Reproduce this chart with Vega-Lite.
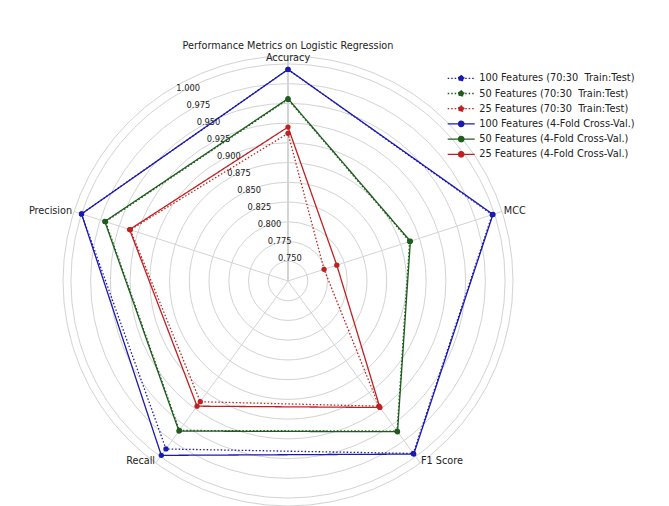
{
  "$schema": "https://vega.github.io/schema/vega-lite/v6.json",
  "width": 450,
  "height": 450,
  "autosize": {"type": "none"},
  "padding": {"left": 63, "top": 56, "right": 156, "bottom": 0},
  "background": "white",
  "config": {"view": {"stroke": null}, "font": "DejaVu Sans"},
  "title": {"text": "Performance Metrics on Logistic Regression", "fontSize": 9.7, "fontWeight": "normal", "color": "#222222", "anchor": "middle", "frame": "group", "offset": 2},
  "datasets": {
    "grid": [{"v": 0.75}, {"v": 0.775}, {"v": 0.8}, {"v": 0.825}, {"v": 0.85}, {"v": 0.875}, {"v": 0.9}, {"v": 0.925}, {"v": 0.95}, {"v": 0.975}, {"v": 1.0}, {"v": 1.01}],
    "axes": [{"metric": "Accuracy", "idx": 0}, {"metric": "Precision", "idx": 1}, {"metric": "Recall", "idx": 2}, {"metric": "F1 Score", "idx": 3}, {"metric": "MCC", "idx": 4}],
    "scores": [
      {"series": "100 Features (70:30\u00a0 Train:Test)", "metric": "Accuracy", "v": 0.993},
      {"series": "100 Features (70:30\u00a0 Train:Test)", "metric": "Precision", "v": 1.0},
      {"series": "100 Features (70:30\u00a0 Train:Test)", "metric": "Recall", "v": 0.988},
      {"series": "100 Features (70:30\u00a0 Train:Test)", "metric": "F1 Score", "v": 0.995},
      {"series": "100 Features (70:30\u00a0 Train:Test)", "metric": "MCC", "v": 0.997},
      {"series": "\u200750 Features (70:30\u00a0 Train:Test)", "metric": "Accuracy", "v": 0.955},
      {"series": "\u200750 Features (70:30\u00a0 Train:Test)", "metric": "Precision", "v": 0.968},
      {"series": "\u200750 Features (70:30\u00a0 Train:Test)", "metric": "Recall", "v": 0.959},
      {"series": "\u200750 Features (70:30\u00a0 Train:Test)", "metric": "F1 Score", "v": 0.96},
      {"series": "\u200750 Features (70:30\u00a0 Train:Test)", "metric": "MCC", "v": 0.887},
      {"series": "\u200725 Features (70:30\u00a0 Train:Test)", "metric": "Accuracy", "v": 0.912},
      {"series": "\u200725 Features (70:30\u00a0 Train:Test)", "metric": "Precision", "v": 0.935},
      {"series": "\u200725 Features (70:30\u00a0 Train:Test)", "metric": "Recall", "v": 0.914},
      {"series": "\u200725 Features (70:30\u00a0 Train:Test)", "metric": "F1 Score", "v": 0.921},
      {"series": "\u200725 Features (70:30\u00a0 Train:Test)", "metric": "MCC", "v": 0.773},
      {"series": "100 Features (4-Fold Cross-Val.)", "metric": "Accuracy", "v": 0.993},
      {"series": "100 Features (4-Fold Cross-Val.)", "metric": "Precision", "v": 1.0},
      {"series": "100 Features (4-Fold Cross-Val.)", "metric": "Recall", "v": 0.998},
      {"series": "100 Features (4-Fold Cross-Val.)", "metric": "F1 Score", "v": 0.996},
      {"series": "100 Features (4-Fold Cross-Val.)", "metric": "MCC", "v": 0.998},
      {"series": "\u200750 Features (4-Fold Cross-Val.)", "metric": "Accuracy", "v": 0.956},
      {"series": "\u200750 Features (4-Fold Cross-Val.)", "metric": "Precision", "v": 0.969},
      {"series": "\u200750 Features (4-Fold Cross-Val.)", "metric": "Recall", "v": 0.96},
      {"series": "\u200750 Features (4-Fold Cross-Val.)", "metric": "F1 Score", "v": 0.961},
      {"series": "\u200750 Features (4-Fold Cross-Val.)", "metric": "MCC", "v": 0.888},
      {"series": "\u200725 Features (4-Fold Cross-Val.)", "metric": "Accuracy", "v": 0.92},
      {"series": "\u200725 Features (4-Fold Cross-Val.)", "metric": "Precision", "v": 0.936},
      {"series": "\u200725 Features (4-Fold Cross-Val.)", "metric": "Recall", "v": 0.921},
      {"series": "\u200725 Features (4-Fold Cross-Val.)", "metric": "F1 Score", "v": 0.923},
      {"series": "\u200725 Features (4-Fold Cross-Val.)", "metric": "MCC", "v": 0.79}
    ]
  },
  "layer": [
    {
      "data": {"name": "grid"},
      "mark": {"type": "arc", "theta": 0, "theta2": 6.283185, "filled": false, "stroke": "#d3d3d3", "strokeWidth": 1},
      "encoding": {
        "radius": {"field": "v", "type": "quantitative", "stack": null, "scale": {"type": "linear", "domain": [0.725, 1.01], "range": [0, 225], "zero": false, "nice": false}}
      }
    },
    {
      "data": {"name": "axes"},
      "transform": [
        {"calculate": "PI/2 + datum.idx*2*PI/5", "as": "a"},
        {"calculate": "0", "as": "cx"},
        {"calculate": "0.285*cos(datum.a)", "as": "ex"},
        {"calculate": "0.285*sin(datum.a)", "as": "ey"}
      ],
      "mark": {"type": "rule", "color": "#d3d3d3", "strokeWidth": 1},
      "encoding": {
        "x": {"field": "cx", "type": "quantitative", "scale": {"domain": [-0.285, 0.285], "nice": false, "zero": false}, "axis": null},
        "y": {"field": "cx", "type": "quantitative", "scale": {"domain": [-0.285, 0.285], "nice": false, "zero": false}, "axis": null},
        "x2": {"field": "ex"},
        "y2": {"field": "ey"}
      }
    },
    {
      "data": {"name": "grid"},
      "transform": [
        {"filter": "datum.v <= 1.0001"},
        {"calculate": "(datum.v - 0.725)*cos(121*PI/180)", "as": "tx"},
        {"calculate": "(datum.v - 0.725)*sin(121*PI/180)", "as": "ty"}
      ],
      "mark": {"type": "text", "align": "center", "baseline": "middle", "dx": 12, "dy": -5.5, "fontSize": 8.3, "color": "#222222"},
      "encoding": {
        "x": {"field": "tx", "type": "quantitative"},
        "y": {"field": "ty", "type": "quantitative"},
        "text": {"field": "v", "type": "quantitative", "format": ".3f"}
      }
    },
    {
      "data": {"name": "scores"},
      "transform": [
        {"calculate": "indexof(['Accuracy','Precision','Recall','F1 Score','MCC'], datum.metric)", "as": "idx"},
        {"calculate": "PI/2 + datum.idx*2*PI/5", "as": "a"},
        {"calculate": "(datum.v - 0.725)*cos(datum.a)", "as": "px"},
        {"calculate": "(datum.v - 0.725)*sin(datum.a)", "as": "py"}
      ],
      "layer": [
        {
          "mark": {"type": "line", "interpolate": "linear-closed", "strokeWidth": 1.3},
          "encoding": {
            "x": {"field": "px", "type": "quantitative"},
            "y": {"field": "py", "type": "quantitative"},
            "order": {"field": "idx", "type": "quantitative"},
            "color": {
              "field": "series", "type": "nominal",
              "scale": {
                "domain": ["100 Features (70:30\u00a0 Train:Test)", "\u200750 Features (70:30\u00a0 Train:Test)", "\u200725 Features (70:30\u00a0 Train:Test)", "100 Features (4-Fold Cross-Val.)", "\u200750 Features (4-Fold Cross-Val.)", "\u200725 Features (4-Fold Cross-Val.)"],
                "range": ["#1a1ab0", "#1e5c1e", "#c02020", "#1a1ab0", "#1e5c1e", "#c02020"]
              },
              "legend": {
                "orient": "none", "legendX": 383.7, "legendY": 15.8, "title": null, "padding": 0,
                "symbolType": "M-1,0L1,0M-0.2,0A0.2,0.2,0,1,1,0.2,0A0.2,0.2,0,1,1,-0.2,0",
                "symbolSize": 729, "symbolStrokeWidth": 1.3, "clipHeight": 13, "rowPadding": 2.2,
                "labelOffset": 3.5, "labelFontSize": 9.8, "labelColor": "#222222", "labelLimit": 300
              }
            },
            "strokeDash": {
              "field": "series", "type": "nominal",
              "scale": {
                "domain": ["100 Features (70:30\u00a0 Train:Test)", "\u200750 Features (70:30\u00a0 Train:Test)", "\u200725 Features (70:30\u00a0 Train:Test)", "100 Features (4-Fold Cross-Val.)", "\u200750 Features (4-Fold Cross-Val.)", "\u200725 Features (4-Fold Cross-Val.)"],
                "range": [[1.5, 2], [1.5, 2], [1.5, 2], [1, 0], [1, 0], [1, 0]]
              }
            }
          }
        },
        {
          "mark": {"type": "point", "filled": true, "size": 28, "opacity": 1},
          "encoding": {
            "x": {"field": "px", "type": "quantitative"},
            "y": {"field": "py", "type": "quantitative"},
            "color": {"field": "series", "type": "nominal"}
          }
        }
      ]
    },
    {
      "data": {"name": "axes"},
      "transform": [
        {"filter": "datum.metric == 'Accuracy'"},
        {"calculate": "PI/2 + datum.idx*2*PI/5", "as": "a"},
        {"calculate": "0.2825*cos(datum.a)", "as": "lx"},
        {"calculate": "0.2825*sin(datum.a)", "as": "ly"}
      ],
      "mark": {"type": "text", "align": "center", "baseline": "middle", "fontSize": 9.7, "color": "#222222"},
      "encoding": {"x": {"field": "lx", "type": "quantitative"}, "y": {"field": "ly", "type": "quantitative"}, "text": {"field": "metric"}}
    },
    {
      "data": {"name": "axes"},
      "transform": [
        {"filter": "datum.metric == 'MCC'"},
        {"calculate": "PI/2 + datum.idx*2*PI/5", "as": "a"},
        {"calculate": "0.2875*cos(datum.a)", "as": "lx"},
        {"calculate": "0.2875*sin(datum.a)", "as": "ly"}
      ],
      "mark": {"type": "text", "align": "left", "baseline": "middle", "fontSize": 9.7, "color": "#222222"},
      "encoding": {"x": {"field": "lx", "type": "quantitative"}, "y": {"field": "ly", "type": "quantitative"}, "text": {"field": "metric"}}
    },
    {
      "data": {"name": "axes"},
      "transform": [
        {"filter": "datum.metric == 'Precision'"},
        {"calculate": "PI/2 + datum.idx*2*PI/5", "as": "a"},
        {"calculate": "0.2875*cos(datum.a)", "as": "lx"},
        {"calculate": "0.2875*sin(datum.a)", "as": "ly"}
      ],
      "mark": {"type": "text", "align": "right", "baseline": "middle", "fontSize": 9.7, "color": "#222222"},
      "encoding": {"x": {"field": "lx", "type": "quantitative"}, "y": {"field": "ly", "type": "quantitative"}, "text": {"field": "metric"}}
    },
    {
      "data": {"name": "axes"},
      "transform": [
        {"filter": "datum.metric == 'F1 Score'"},
        {"calculate": "PI/2 + datum.idx*2*PI/5", "as": "a"},
        {"calculate": "0.2865*cos(datum.a)", "as": "lx"},
        {"calculate": "0.2865*sin(datum.a)", "as": "ly"}
      ],
      "mark": {"type": "text", "align": "left", "baseline": "alphabetic", "fontSize": 9.7, "color": "#222222"},
      "encoding": {"x": {"field": "lx", "type": "quantitative"}, "y": {"field": "ly", "type": "quantitative"}, "text": {"field": "metric"}}
    },
    {
      "data": {"name": "axes"},
      "transform": [
        {"filter": "datum.metric == 'Recall'"},
        {"calculate": "PI/2 + datum.idx*2*PI/5", "as": "a"},
        {"calculate": "0.2865*cos(datum.a)", "as": "lx"},
        {"calculate": "0.2865*sin(datum.a)", "as": "ly"}
      ],
      "mark": {"type": "text", "align": "right", "baseline": "alphabetic", "fontSize": 9.7, "color": "#222222"},
      "encoding": {"x": {"field": "lx", "type": "quantitative"}, "y": {"field": "ly", "type": "quantitative"}, "text": {"field": "metric"}}
    }
  ]
}
